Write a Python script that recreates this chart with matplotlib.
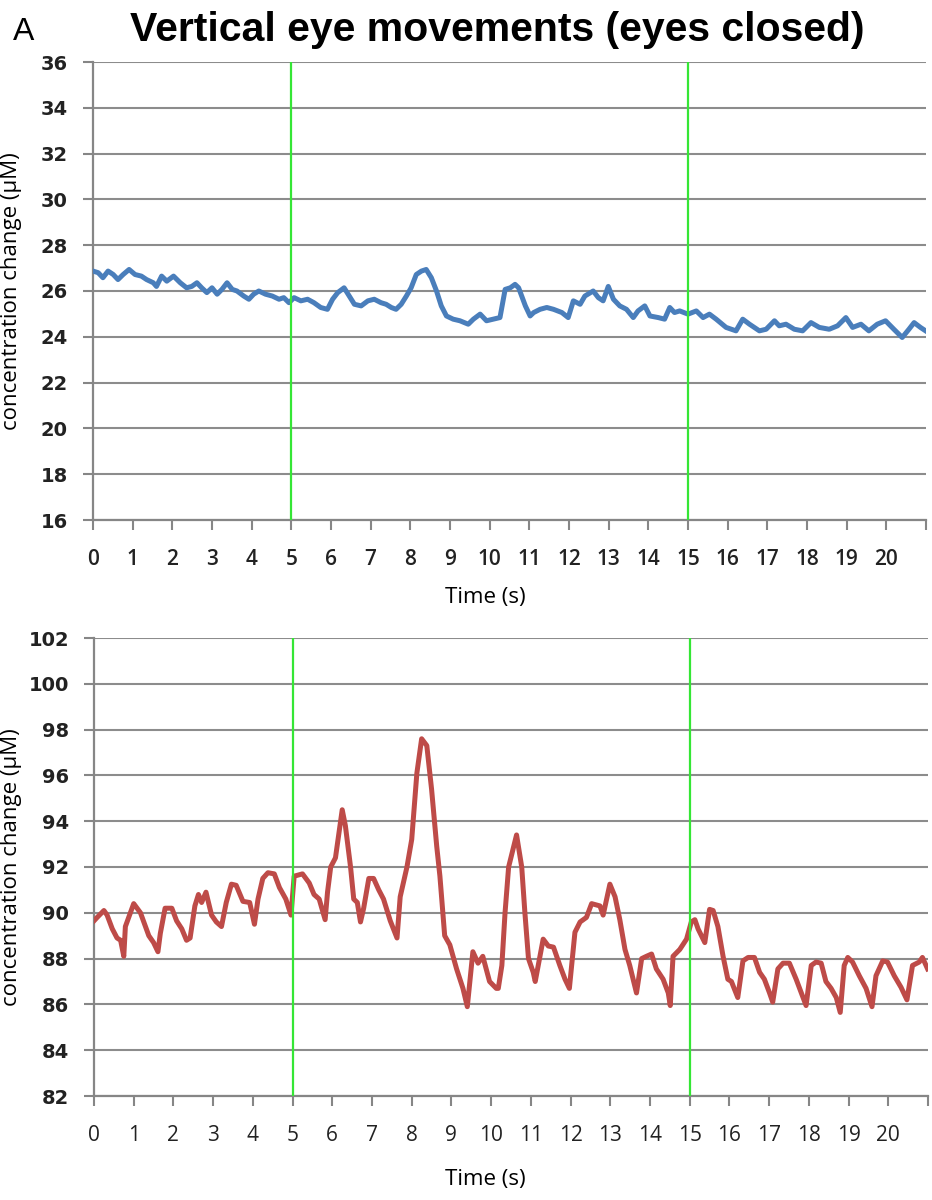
import matplotlib
matplotlib.use('Agg')
import matplotlib.pyplot as plt
import numpy as np

# HbO-type trace (upper panel), time in s, concentration change in uM
blue_t = [0.00, 0.13, 0.25, 0.38, 0.51, 0.63, 0.76, 0.91, 1.06, 1.22, 1.35, 1.52,
          1.60, 1.73, 1.86, 2.03, 2.20, 2.36, 2.49, 2.62, 2.74, 2.87, 3.00, 3.13,
          3.25, 3.38, 3.51, 3.63, 3.80, 3.93, 4.05, 4.18, 4.35, 4.52, 4.69, 4.81,
          4.94, 5.07, 5.24, 5.41, 5.57, 5.74, 5.91, 6.04, 6.17, 6.33, 6.46, 6.59,
          6.76, 6.93, 7.09, 7.26, 7.39, 7.52, 7.64, 7.77, 7.90, 8.02, 8.15, 8.28,
          8.40, 8.53, 8.66, 8.78, 8.91, 9.08, 9.25, 9.46, 9.59, 9.76, 9.92, 10.09,
          10.26, 10.39, 10.52, 10.64, 10.73, 10.90, 11.02, 11.11, 11.27, 11.44,
          11.61, 11.82, 11.98, 12.11, 12.28, 12.40, 12.61, 12.74, 12.86, 12.99,
          13.12, 13.28, 13.45, 13.62, 13.74, 13.91, 14.04, 14.25, 14.41, 14.54,
          14.66, 14.79, 15.00, 15.21, 15.38, 15.54, 15.71, 15.96, 16.21, 16.38,
          16.55, 16.80, 16.97, 17.18, 17.30, 17.47, 17.68, 17.89, 18.10, 18.31,
          18.56, 18.77, 18.98, 19.15, 19.36, 19.56, 19.77, 19.98, 20.19, 20.40,
          20.57, 20.70, 20.86, 20.99]
blue_v = [26.87, 26.80, 26.58, 26.87, 26.72, 26.50, 26.72, 26.94, 26.72, 26.65, 26.50, 26.36,
          26.20, 26.65, 26.43, 26.65, 26.36, 26.14, 26.20, 26.36, 26.14, 25.93, 26.14, 25.86,
          26.07, 26.36, 26.07, 26.00, 25.78, 25.64, 25.86, 26.00, 25.86, 25.78, 25.64, 25.71,
          25.49, 25.71, 25.57, 25.64, 25.49, 25.28, 25.20, 25.64, 25.93, 26.14, 25.78, 25.42,
          25.35, 25.57, 25.64, 25.49, 25.42, 25.28, 25.20, 25.42, 25.78, 26.14, 26.72, 26.87,
          26.94, 26.58, 26.00, 25.35, 24.91, 24.77, 24.70, 24.55, 24.77, 24.99, 24.70, 24.77,
          24.84, 26.07, 26.14, 26.29, 26.14, 25.35, 24.91, 25.06, 25.20, 25.28,
          25.20, 25.06, 24.84, 25.57, 25.42, 25.78, 26.00, 25.71, 25.57, 26.20,
          25.64, 25.35, 25.20, 24.84, 25.13, 25.35, 24.91, 24.84, 24.77, 25.28,
          25.06, 25.13, 24.99, 25.13, 24.84, 24.99, 24.77, 24.41, 24.26, 24.77,
          24.55, 24.26, 24.33, 24.70, 24.48, 24.55, 24.33, 24.26, 24.62, 24.41,
          24.33, 24.48, 24.84, 24.41, 24.55, 24.26, 24.55, 24.70, 24.33, 23.97,
          24.33, 24.62, 24.41, 24.26]

# second trace (lower panel)
red_t = [0.00, 0.08, 0.25, 0.33, 0.46, 0.58, 0.67, 0.75, 0.79, 1.00, 1.17, 1.38,
         1.50, 1.61, 1.67, 1.79, 1.96, 2.08, 2.21, 2.33, 2.42, 2.54, 2.63, 2.71,
         2.82, 2.96, 3.08, 3.21, 3.33, 3.46, 3.58, 3.75, 3.92, 4.04, 4.13, 4.25,
         4.38, 4.54, 4.67, 4.83, 4.96, 5.04, 5.25, 5.42, 5.54, 5.67, 5.82, 5.88,
         5.96, 6.08, 6.25, 6.33, 6.46, 6.54, 6.63, 6.71, 6.79, 6.92, 7.04, 7.17,
         7.29, 7.46, 7.63, 7.71, 7.88, 8.00, 8.13, 8.25, 8.38, 8.50, 8.63, 8.71,
         8.83, 8.96, 9.13, 9.29, 9.40, 9.54, 9.67, 9.79, 9.96, 10.13, 10.18, 10.27,
         10.35, 10.44, 10.64, 10.77, 10.85, 10.94, 11.06, 11.11, 11.23, 11.31,
         11.44, 11.57, 11.73, 11.86, 11.97, 12.11, 12.24, 12.40, 12.53, 12.74,
         12.82, 12.99, 13.12, 13.24, 13.37, 13.49, 13.66, 13.79, 13.91, 14.04,
         14.16, 14.33, 14.46, 14.51, 14.58, 14.75, 14.92, 15.04, 15.13, 15.21,
         15.38, 15.50, 15.59, 15.71, 15.84, 15.96, 16.05, 16.21, 16.34, 16.47,
         16.63, 16.76, 16.88, 17.01, 17.09, 17.22, 17.35, 17.51, 17.68, 17.81,
         17.93, 18.06, 18.18, 18.31, 18.43, 18.56, 18.69, 18.79, 18.89, 18.98,
         19.10, 19.27, 19.44, 19.59, 19.69, 19.86, 19.98, 20.15, 20.32, 20.47,
         20.61, 20.78, 20.86, 20.99]
red_v = [89.65, 89.80, 90.10, 89.90, 89.30, 88.90, 88.80, 88.10, 89.40, 90.40, 90.00, 89.00,
         88.70, 88.30, 89.10, 90.20, 90.20, 89.65, 89.30, 88.80, 88.90, 90.30, 90.80, 90.45,
         90.90, 89.90, 89.60, 89.40, 90.45, 91.25, 91.20, 90.50, 90.45, 89.50, 90.60, 91.50,
         91.75, 91.70, 91.10, 90.60, 89.90, 91.60, 91.70, 91.30, 90.80, 90.60, 89.70, 90.90,
         92.00, 92.40, 94.50, 93.80, 92.00, 90.60, 90.45, 89.60, 90.20, 91.50, 91.50, 91.00,
         90.60, 89.65, 88.90, 90.70, 92.00, 93.20, 96.10, 97.60, 97.30, 95.40, 92.90, 91.60,
         89.00, 88.60, 87.55, 86.70, 85.90, 88.30, 87.80, 88.10, 87.00, 86.70, 86.70, 87.70,
         90.00, 92.00, 93.40, 92.00, 90.00, 88.00, 87.40, 87.00, 88.10, 88.85,
         88.55, 88.50, 87.70, 87.10, 86.70, 89.15, 89.60, 89.80, 90.40, 90.30,
         89.90, 91.25, 90.70, 89.70, 88.40, 87.70, 86.50, 88.00, 88.10, 88.20,
         87.55, 87.10, 86.50, 85.95, 88.10, 88.40, 88.85, 89.60, 89.70, 89.30,
         88.70, 90.15, 90.10, 89.40, 88.10, 87.10, 87.00, 86.30, 87.90, 88.05,
         88.05, 87.40, 87.10, 86.50, 86.10, 87.55, 87.80, 87.80, 87.10, 86.50,
         85.95, 87.70, 87.85, 87.80, 87.00, 86.70, 86.30, 85.65, 87.70, 88.05,
         87.85, 87.25, 86.70, 85.90, 87.25, 87.90, 87.85, 87.25, 86.75, 86.20,
         87.70, 87.85, 88.05, 87.55]

x_ticks = list(range(22))
x_ticklabels = [str(i) for i in range(21)] + ['']
top_yticks = list(range(16, 37, 2))
bot_yticks = list(range(82, 103, 2))
markers = [5, 15]

TITLE = 'Vertical eye movements (eyes closed)'
YLABEL = 'concentration change (\u03bcM)'
XLABEL = 'Time (s)'

GRID = '#8c8c8c'
AXIS = '#868686'
GREEN = '#35e635'
INK = '#222222'
SANS = ['Open Sans', 'DejaVu Sans']
ARIAL = ['Liberation Sans', 'DejaVu Sans']

W, H = 932, 1200
fig = plt.figure(figsize=(W / 100, H / 100), dpi=100)


def panel(rect, t, v, color, yticks, xweight, xpad):
    ax = fig.add_axes(rect)
    ax.plot(t, v, color=color, lw=3.6, solid_joinstyle='round', zorder=3)
    for m in markers:
        ax.axvline(m, color=GREEN, lw=1.6, zorder=4)
    ax.set_xlim(0, 20.95)
    ax.set_ylim(yticks[0], yticks[-1])
    ax.set_yticks(yticks)
    ax.set_xticks(x_ticks)
    ax.set_xticklabels(x_ticklabels, fontsize=15, fontweight=xweight,
                       family=SANS, color=INK)
    ax.set_yticklabels([str(y) for y in yticks], fontsize=14, fontweight='bold',
                       color=INK)
    ax.yaxis.grid(True, color=GRID, lw=1.5)
    ax.set_axisbelow(True)
    for s in ['top', 'right']:
        ax.spines[s].set_visible(False)
    for s in ['left', 'bottom']:
        ax.spines[s].set_color(AXIS)
        ax.spines[s].set_linewidth(1.6)
    ax.tick_params(axis='y', length=7, width=1.5, color=AXIS, pad=11)
    ax.tick_params(axis='x', length=7, width=1.5, color=AXIS, pad=xpad)
    return ax


top = panel([93 / W, 1 - 520 / H, 833 / W, 458 / H], blue_t, blue_v, '#4a7ebb',
            top_yticks, 'semibold', 14)
bot = panel([94 / W, 1 - 1096 / H, 834 / W, 458 / H], red_t, red_v, '#be4b48',
            bot_yticks, 'normal', 14)

fig.text(497 / W, 1 - 41 / H, TITLE, ha='center', va='baseline', fontsize=29.5,
         fontweight='bold', family=ARIAL)
fig.text(13 / W, 1 - 40 / H, 'A', ha='left', va='baseline', fontsize=23,
         family=ARIAL)

fig.text(485 / W, 1 - 598 / H, XLABEL, ha='center', va='center', fontsize=16,
         family=SANS)
fig.text(485 / W, 1 - 1179 / H, XLABEL, ha='center', va='center', fontsize=16,
         family=SANS)

# y labels sit hard against the left edge of the figure
fig.text(1 / W, 1 - 291 / H, YLABEL, ha='left', va='center', rotation=90,
         fontsize=16, family=SANS)
fig.text(1 / W, 1 - 867 / H, YLABEL, ha='left', va='center', rotation=90,
         fontsize=16, family=SANS)

fig.savefig('out.png', dpi=100)
